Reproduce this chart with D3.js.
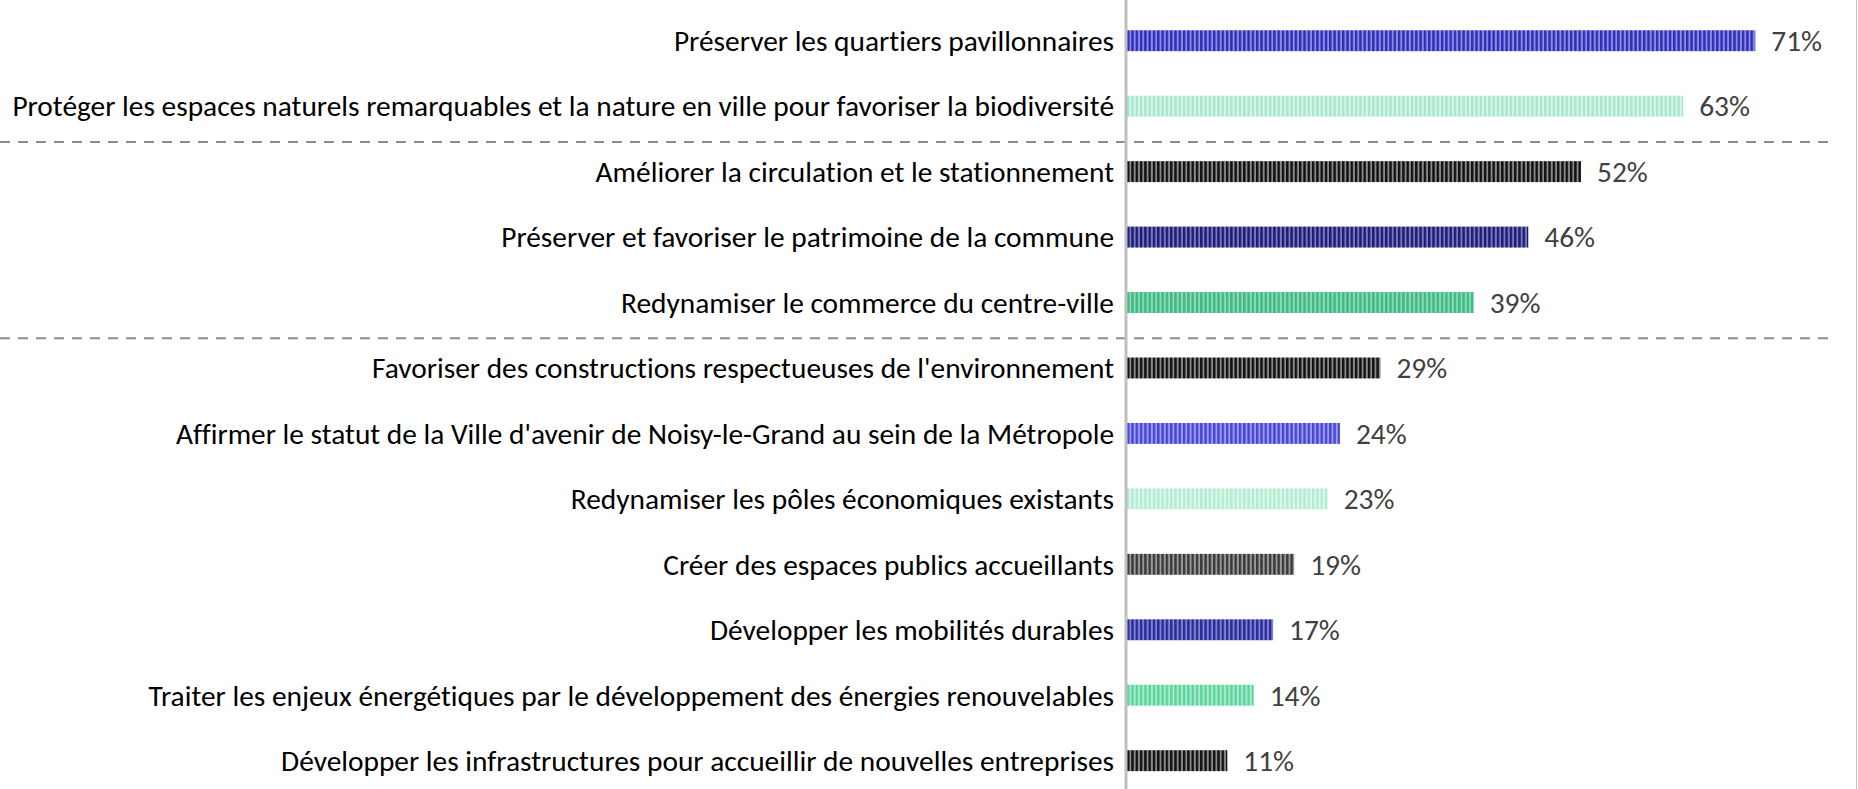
<!DOCTYPE html>
<html lang="fr">
<head>
<meta charset="UTF-8">
<title>Priorités</title>
<style>
  html, body { margin: 0; padding: 0; background: #fff; }
  svg { display: block; }
  text { font-variant-ligatures: none; font-feature-settings: "liga" 0, "clig" 0; }
  .cat-label { fill: #000; }
  .val-label { fill: #404040; }
</style>
</head>
<body>
<svg id="chart" width="1858" height="789"></svg>
<script src="https://cdn.jsdelivr.net/npm/d3@7"></script>
<script>
// --- Data ---
const categories = [
  "Préserver les quartiers pavillonnaires",
  "Protéger les espaces naturels remarquables et la nature en ville pour favoriser la biodiversité",
  "Améliorer la circulation et le stationnement",
  "Préserver et favoriser le patrimoine de la commune",
  "Redynamiser le commerce du centre-ville",
  "Favoriser des constructions respectueuses de l'environnement",
  "Affirmer le statut de la Ville d'avenir de Noisy-le-Grand au sein de la Métropole",
  "Redynamiser les pôles économiques existants",
  "Créer des espaces publics accueillants",
  "Développer les mobilités durables",
  "Traiter les enjeux énergétiques par le développement des énergies renouvelables",
  "Développer les infrastructures pour accueillir de nouvelles entreprises"
];
// bar lengths (labels show them rounded)
const values = [71.4, 63.2, 51.6, 45.6, 39.4, 28.8, 24.2, 22.8, 19.0, 16.6, 14.4, 11.4];
// dashed separators drawn after these row indexes
const groupBreaks = [1, 4];

// stripe colours per bar: [main, light]
const barColors = [
  ["#2e2eb8", "#8c8ce0"],
  ["#a6e8cc", "#d9f5ea"],
  ["#111111", "#8a8a8a"],
  ["#1c1c78", "#7a7ab8"],
  ["#3dba86", "#8fd9b6"],
  ["#111111", "#8a8a8a"],
  ["#4646d8", "#9c9cea"],
  ["#b2ecd3", "#def7ec"],
  ["#3a3a3a", "#9a9a9a"],
  ["#2a2aa0", "#8282c8"],
  ["#5cd49e", "#aae9cb"],
  ["#111111", "#8a8a8a"]
];

// --- Setup ---
const svg = d3.select("#chart");
const W = 1858, H = 789;
const axisX = 1126;

const y = d3.scaleBand()
  .domain(categories)
  .range([8, 8 + 12 * 65.45])
  .paddingInner(0.68)
  .paddingOuter(0.34);

const x = d3.scaleLinear()
  .domain([0, 100])
  .range([axisX + 1, axisX + 1 + 880]);

// stripe patterns
const defs = svg.append("defs");
barColors.forEach((c, i) => {
  const p = defs.append("pattern")
    .attr("id", "stripe" + i)
    .attr("patternUnits", "userSpaceOnUse")
    .attr("width", 4.3)
    .attr("height", 10)
    .attr("x", axisX + 1);
  p.append("rect").attr("width", 4.3).attr("height", 10).attr("fill", c[1]);
  p.append("rect").attr("width", 2.4).attr("height", 10).attr("fill", c[0]);
});

// dashed separators
const gap = y.step() - y.bandwidth();
svg.selectAll(".sep")
  .data(groupBreaks)
  .enter().append("line")
  .attr("class", "sep")
  .attr("x1", 0)
  .attr("x2", 1834)
  .attr("y1", d => y(categories[d + 1]) - gap / 2 + 3)
  .attr("y2", d => y(categories[d + 1]) - gap / 2 + 3)
  .attr("stroke", "#8c8c8c")
  .attr("stroke-width", 2)
  .attr("stroke-dasharray", "10,8");

// right edge line
svg.append("line")
  .attr("x1", W - 1.5).attr("x2", W - 1.5)
  .attr("y1", 0).attr("y2", H)
  .attr("stroke", "#c4c4c4")
  .attr("stroke-width", 1);

// bars
svg.selectAll(".bar")
  .data(values)
  .enter().append("rect")
  .attr("class", "bar")
  .attr("x", x(0))
  .attr("y", (d, i) => y(categories[i]))
  .attr("width", d => x(d) - x(0))
  .attr("height", y.bandwidth())
  .attr("fill", (d, i) => `url(#stripe${i})`);

// axis line
const axis = svg.append("g")
  .attr("transform", `translate(${axisX},0)`)
  .call(d3.axisLeft(y).tickSize(0).tickFormat(""));
axis.select(".domain")
  .attr("d", `M0,0V${H}`)
  .attr("stroke", "#bfbfbf")
  .attr("stroke-width", 3);

// category labels
const fontStack = "Calibri, Carlito, 'Noto Sans', 'Open Sans', sans-serif";
let fs = 29;
const labels = svg.selectAll(".cat-label")
  .data(categories)
  .enter().append("text")
  .attr("class", "cat-label")
  .attr("x", axisX - 12)
  .attr("y", d => y(d) + y.bandwidth() / 2)
  .attr("dy", "0.35em")
  .attr("text-anchor", "end")
  .style("font-family", fontStack)
  .style("font-size", fs + "px")
  .text(d => d);

// fit the longest label into the space left of the axis
let maxW = 0;
labels.each(function() { maxW = Math.max(maxW, this.getComputedTextLength()); });
const avail = axisX - 12 - 12;
if (maxW > 0) {
  fs = fs * avail / maxW;
  labels.style("font-size", fs + "px");
}

// value labels
svg.selectAll(".val-label")
  .data(values)
  .enter().append("text")
  .attr("class", "val-label")
  .attr("x", d => x(d) + 16)
  .attr("y", (d, i) => y(categories[i]) + y.bandwidth() / 2)
  .attr("dy", "0.35em")
  .style("font-family", fontStack)
  .style("font-size", fs + "px")
  .text(d => Math.round(d) + "%");
</script>
</body>
</html>
